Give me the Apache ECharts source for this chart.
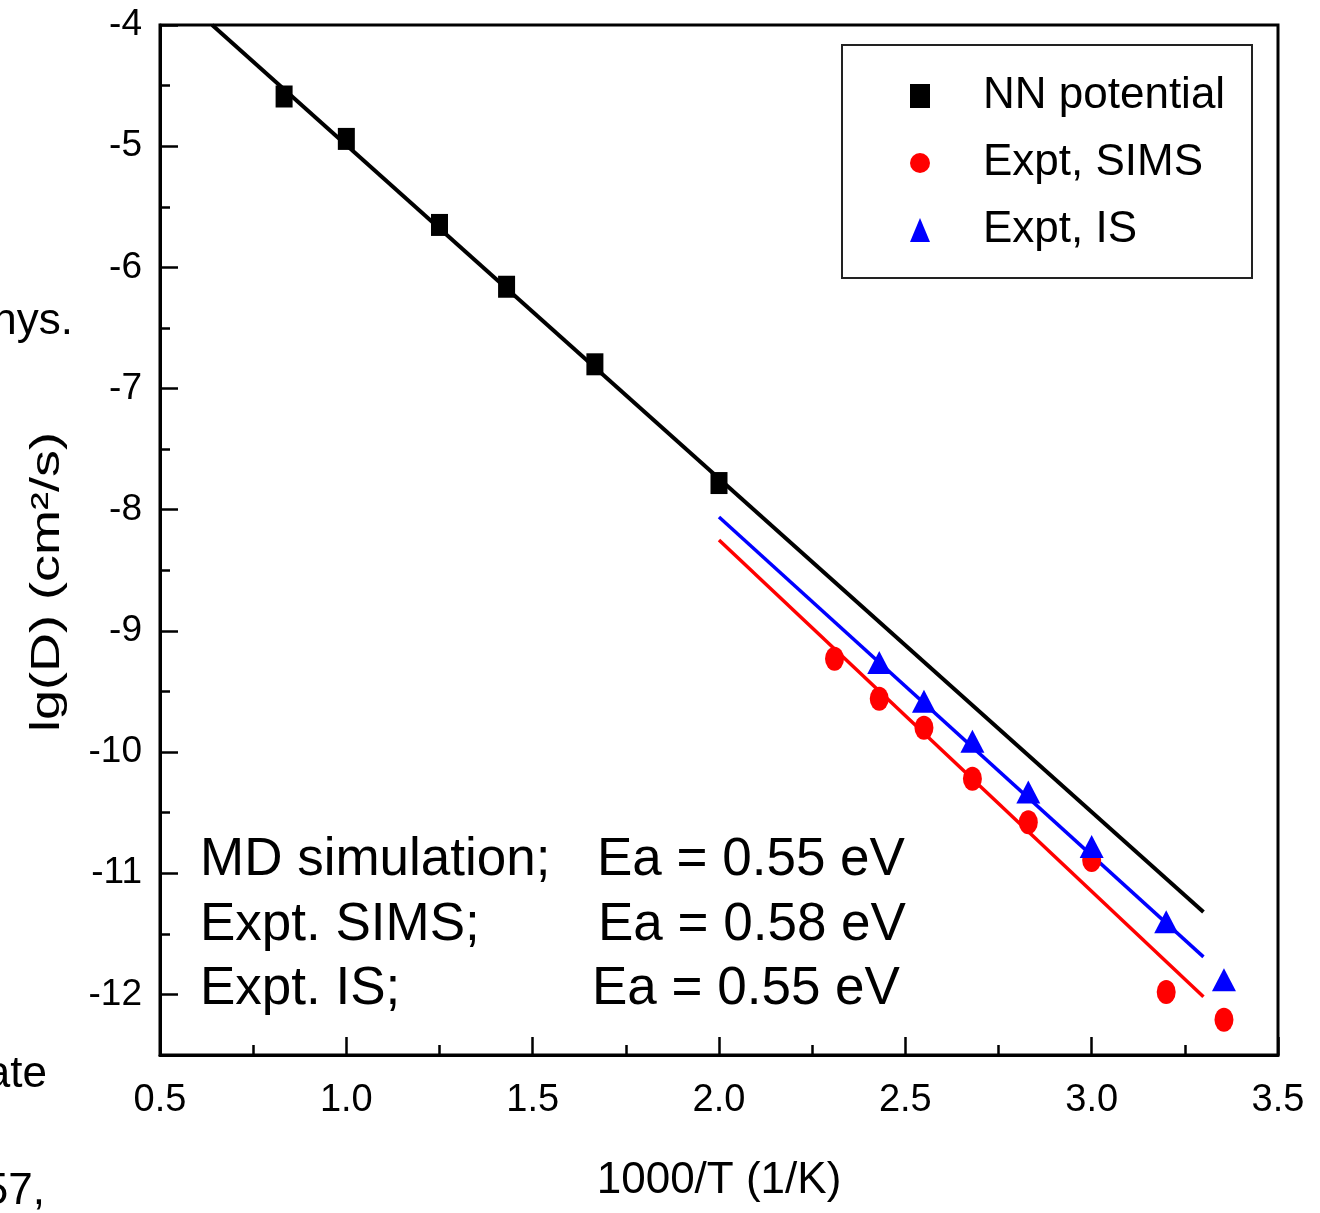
<!DOCTYPE html>
<html>
<head>
<meta charset="utf-8">
<script src="https://cdn.jsdelivr.net/npm/echarts@6/dist/echarts.min.js"></script>
<style>
  html, body { margin: 0; padding: 0; background: #fff; }
  #chart { width: 1320px; height: 1213px; }
</style>
</head>
<body>
<div id="chart"></div>
<script>
// ticks
const xMajor = [0.5, 1.0, 1.5, 2.0, 2.5, 3.0, 3.5];
const yMajor = [-12, -11, -10, -9, -8, -7, -6, -5, -4];
const yMinor = [-12.5, -11.5, -10.5, -9.5, -8.5, -7.5, -6.5, -5.5, -4.5];

// NN potential (MD) points, 1000/T vs lg(D)
const nnX = [0.833, 1.0, 1.25, 1.43, 1.667, 2.0];
const nnY = [-4.59, -4.94, -5.65, -6.16, -6.80, -7.78];

// Expt, SIMS
const simsX = [2.31, 2.43, 2.55, 2.68, 2.83, 3.0, 3.2, 3.355];
const simsY = [-9.23, -9.56, -9.80, -10.22, -10.58, -10.89, -11.98, -12.21];

// Expt, IS
const isX = [2.43, 2.55, 2.68, 2.83, 3.0, 3.2, 3.355];
const isY = [-9.26, -9.58, -9.91, -10.33, -10.78, -11.40, -11.88];

// Arrhenius fit lines (end points)
const nnFit = [[0.64, -4.0], [3.30, -11.32]];
const isFit = [[2.0, -8.06], [3.30, -11.69]];
const simsFit = [[2.0, -8.25], [3.30, -12.02]];

const zip = (xs, ys) => xs.map((x, i) => [x, ys[i]]);

const sans = "'Liberation Sans', Arial, sans-serif";

const chart = echarts.init(document.getElementById("chart"));

chart.setOption({
  backgroundColor: "#fff",
  animation: false,
  grid: {
    left: 160, right: 42, top: 25, bottom: 158,
    outerBoundsMode: "none",
    show: true, borderColor: "#000", borderWidth: 3
  },
  legend: {
    orient: "vertical",
    left: 910,
    top: 72,
    padding: 0,
    itemGap: 19,
    itemWidth: 20,
    itemHeight: 24,
    data: ["NN potential", "Expt, SIMS", "Expt, IS"],
    textStyle: { fontFamily: sans, fontSize: 44, color: "#000", lineHeight: 48, padding: [0, 0, 0, 48] }
  },
  xAxis: {
    type: "value",
    min: 0.5,
    max: 3.5,
    interval: 0.5,
    name: "1000/T (1/K)",
    nameLocation: "middle",
    nameGap: 104,
    nameTextStyle: { fontFamily: sans, fontSize: 44, color: "#000" },
    axisLine: { lineStyle: { color: "#000", width: 3 } },
    axisTick: { inside: true, length: 18, lineStyle: { color: "#000", width: 2.5 } },
    minorTick: { show: true, splitNumber: 2, length: 10, lineStyle: { color: "#000", width: 2.5 } },
    axisLabel: {
      margin: 27,
      fontFamily: sans,
      fontSize: 38,
      color: "#000",
      formatter: (v) => v.toFixed(1)
    },
    splitLine: { show: false }
  },
  yAxis: [
    {
      type: "value",
      min: -12.5,
      max: -4,
      axisLine: { lineStyle: { color: "#000", width: 3 } },
      axisTick: { inside: true, length: 18, customValues: yMajor, lineStyle: { color: "#000", width: 2.5 } },
      axisLabel: { customValues: yMajor, margin: 18, fontFamily: sans, fontSize: 37, color: "#000" },
      splitLine: { show: false }
    },
    {
      type: "value",
      min: -12.5,
      max: -4,
      position: "left",
      axisLine: { show: false },
      axisTick: { inside: true, length: 10, customValues: yMinor, lineStyle: { color: "#000", width: 2.5 } },
      axisLabel: { show: false },
      splitLine: { show: false }
    }
  ],
  graphic: [
    {
      type: "rect",
      shape: { x: 842, y: 45, width: 410, height: 233 },
      style: { fill: "none", stroke: "#222", lineWidth: 2 },
      z: 10
    },
    {
      type: "text",
      x: 48, y: 582,
      rotation: Math.PI / 2,
      scaleX: 1.35,
      style: { text: "lg(D) (cm²/s)", fontFamily: sans, fontSize: 40, fill: "#000", align: "center", verticalAlign: "middle" }
    },
    { type: "text", x: 200, y: 860, style: { text: "MD simulation;", fontFamily: sans, fontSize: 53, fill: "#000", verticalAlign: "middle" }, z: 10 },
    { type: "text", x: 200, y: 925, style: { text: "Expt. SIMS;", fontFamily: sans, fontSize: 53, fill: "#000", verticalAlign: "middle" }, z: 10 },
    { type: "text", x: 200, y: 989, style: { text: "Expt. IS;", fontFamily: sans, fontSize: 53, fill: "#000", verticalAlign: "middle" }, z: 10 },
    { type: "text", x: 597, y: 860, style: { text: "Ea = 0.55 eV", fontFamily: sans, fontSize: 53, fill: "#000", verticalAlign: "middle" }, z: 10 },
    { type: "text", x: 598, y: 925, style: { text: "Ea = 0.58 eV", fontFamily: sans, fontSize: 53, fill: "#000", verticalAlign: "middle" }, z: 10 },
    { type: "text", x: 592, y: 989, style: { text: "Ea = 0.55 eV", fontFamily: sans, fontSize: 53, fill: "#000", verticalAlign: "middle" }, z: 10 },
    // cropped text from the surrounding page
    { type: "text", x: 73, y: 322, style: { text: "hys.", fontFamily: sans, fontSize: 44, fill: "#000", align: "right", verticalAlign: "middle" } },
    { type: "text", x: 47, y: 1075, style: { text: "ate", fontFamily: sans, fontSize: 44, fill: "#000", align: "right", verticalAlign: "middle" } },
    { type: "text", x: 45, y: 1192, style: { text: "57,", fontFamily: sans, fontSize: 44, fill: "#000", align: "right", verticalAlign: "middle" } }
  ],
  series: [
    {
      name: "NN fit",
      type: "line",
      data: nnFit,
      symbol: "none",
      silent: true,
      lineStyle: { color: "#000", width: 4 },
      z: 2
    },
    {
      name: "IS fit",
      type: "line",
      data: isFit,
      symbol: "none",
      silent: true,
      lineStyle: { color: "#0000ff", width: 3.5 },
      z: 2
    },
    {
      name: "SIMS fit",
      type: "line",
      data: simsFit,
      symbol: "none",
      silent: true,
      lineStyle: { color: "#ff0000", width: 3.5 },
      z: 2
    },
    {
      name: "Expt, SIMS",
      type: "scatter",
      data: zip(simsX, simsY),
      symbol: "circle",
      symbolSize: [19, 24],
      itemStyle: { color: "#ff0000", opacity: 1 },
      z: 3
    },
    {
      name: "Expt, IS",
      type: "scatter",
      data: zip(isX, isY),
      symbol: "triangle",
      symbolSize: [24, 23],
      itemStyle: { color: "#0000ff", opacity: 1 },
      z: 4
    },
    {
      name: "NN potential",
      type: "scatter",
      data: zip(nnX, nnY),
      symbol: "rect",
      symbolSize: [17, 22],
      itemStyle: { color: "#000", opacity: 1 },
      z: 5
    }
  ]
});
</script>
</body>
</html>
